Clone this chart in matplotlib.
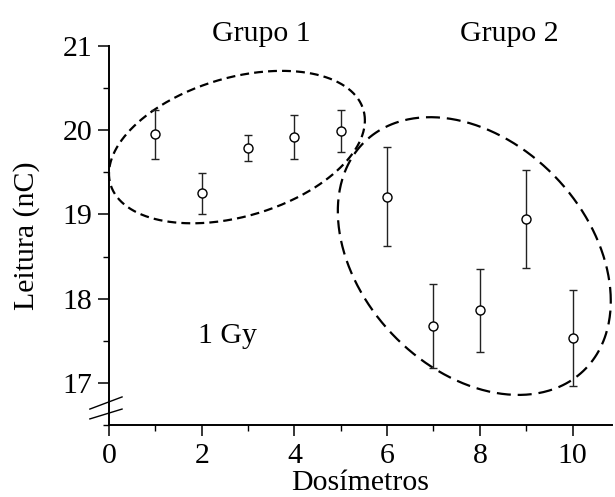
import numpy as np
import matplotlib
matplotlib.use("Agg")
import matplotlib.pyplot as plt
from matplotlib.ticker import MultipleLocator

plt.rcParams['font.family'] = ['Liberation Serif', 'DejaVu Serif']
FS = 21.5

# Readings per dosimeter (nC) with their uncertainties
dosimetros = [1, 2, 3, 4, 5, 6, 7, 8, 9, 10]
leitura = [19.95, 19.25, 19.79, 19.92, 19.99, 19.21, 17.68, 17.86, 18.95, 17.53]
erro = [0.29, 0.24, 0.155, 0.26, 0.25, 0.59, 0.50, 0.49, 0.58, 0.57]

# Group outlines: centre, half-extents along x and y, and x-y correlation
grupos = [
    dict(nome="Grupo 1", centro=(2.76, 19.80), semi=(2.76, 0.905), r=0.35,
         dashes=(4.0, 2.3), lw=1.6, texto=(3.28, 21.06)),
    dict(nome="Grupo 2", centro=(7.88, 18.506), semi=(2.944, 1.649), r=-0.323,
         dashes=(6.3, 3.1), lw=1.6, texto=(8.63, 21.06)),
]

fig = plt.figure(figsize=(6.15, 4.97), dpi=100)
ax = fig.add_axes([0.1772, 0.1449, 0.8179, 0.7625])

ax.errorbar(dosimetros, leitura, yerr=erro, fmt='o', color='black',
            mfc='white', mec='black', ms=6.5, mew=1.0, elinewidth=1.0,
            capsize=3.2, capthick=1.0, ecolor='#222222', zorder=3)

t = np.linspace(0, 2 * np.pi, 400)
for g in grupos:
    cx, cy = g["centro"]
    w, h = g["semi"]
    r = g["r"]
    xs = cx + w * np.cos(t)
    ys = cy + h * (r * np.cos(t) + np.sqrt(1 - r ** 2) * np.sin(t))
    ax.plot(xs, ys, color='black', lw=g["lw"], dashes=g["dashes"],
            clip_on=False, zorder=2)
    ax.text(g["texto"][0], g["texto"][1], g["nome"], ha='center',
            va='baseline', fontsize=FS)

ax.text(2.55, 17.56, "1 Gy", ha='center', va='center', fontsize=FS)

ax.set_xlim(0, 10.85)
ax.set_ylim(16.5, 21)
ax.xaxis.set_major_locator(MultipleLocator(2))
ax.xaxis.set_minor_locator(MultipleLocator(1))
ax.yaxis.set_major_locator(MultipleLocator(1))
ax.yaxis.set_minor_locator(MultipleLocator(0.5))
ax.set_yticks([17, 18, 19, 20, 21])

for side in ('top', 'right'):
    ax.spines[side].set_visible(False)
for side in ('left', 'bottom'):
    ax.spines[side].set_linewidth(1.4)

ax.tick_params(which='major', direction='out', length=8, width=1.1,
               labelsize=FS, pad=4)
ax.tick_params(axis='x', which='major', pad=5)
ax.tick_params(which='minor', direction='out', length=4, width=1.0)

ax.set_xlabel("Dosímetros", fontsize=FS, labelpad=1)
ax.set_ylabel("Leitura (nC)", fontsize=FS, labelpad=16)

# Axis break marks on the y axis
for y0, y1 in [(0.042, 0.074), (0.016, 0.042)]:
    ax.plot([-0.038, 0.026], [y0, y1], transform=ax.transAxes,
            color='black', lw=1.0, clip_on=False)

fig.savefig("out.png", dpi=100)
